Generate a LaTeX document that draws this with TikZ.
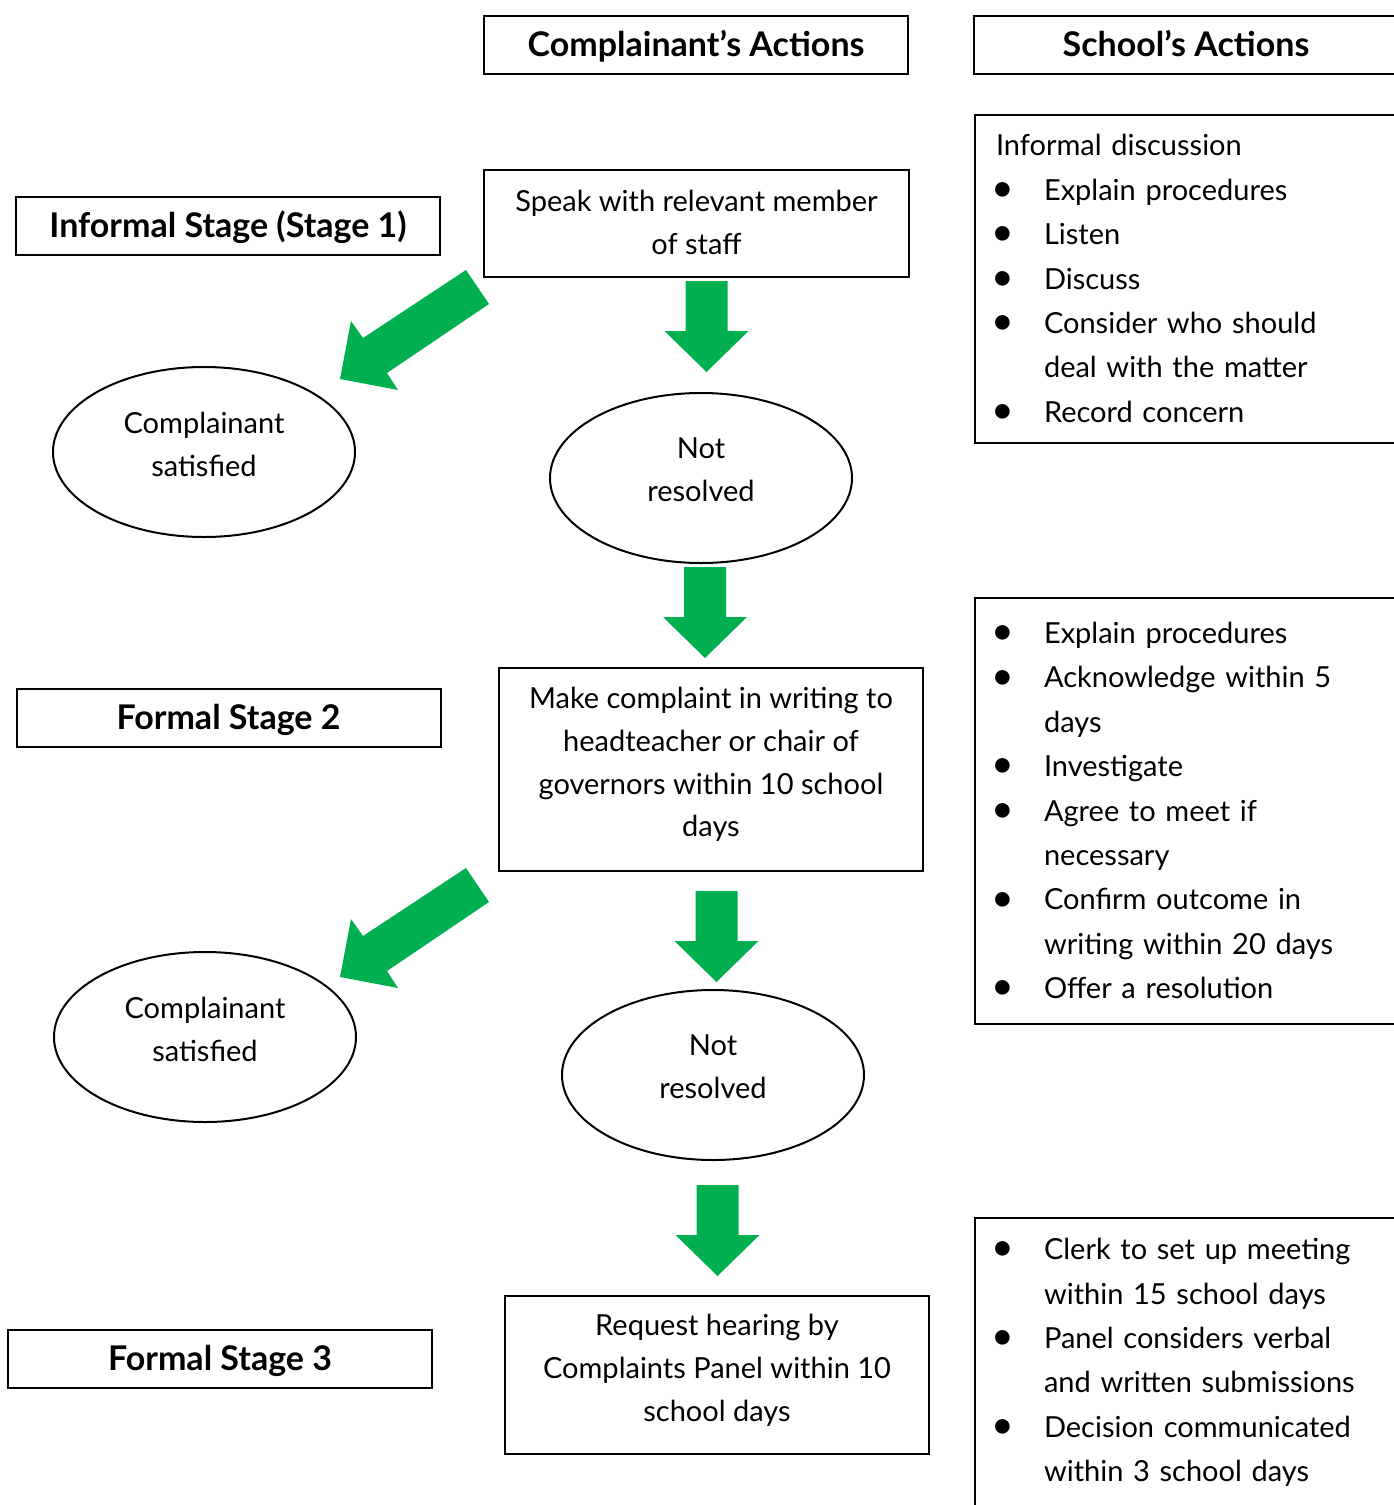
\documentclass[tikz,border=0pt]{standalone}
\usepackage{fontspec}
\setmainfont{Lato}
\usetikzlibrary{shapes.geometric}

\definecolor{arrowgreen}{RGB}{0,176,80}
\newcommand{\bul}{\makebox[24pt][l]{\hspace{-2.5pt}\raisebox{-0.6pt}{\scalebox{1.35}{\textbullet}}}}
\newcommand{\cont}{\hspace*{24pt}}
% block arrow pointing down, (#1,#2) = top centre of the shaft
\newcommand{\greendown}[2]{%
  \fill[arrowgreen] (#1,#2) ++(-21,0) -- ++(42,0) -- ++(0,50) -- ++(21,0)
    -- ++(-42,41) -- ++(-42,-41) -- ++(21,0) -- cycle;}

\tikzset{
  box/.style={draw, line width=1pt, minimum width=212pt, minimum height=29pt, inner sep=0pt},
  headbox/.style={box, text height=13.5pt, text depth=1.6pt,
    font=\bfseries\fontsize{17}{20}\selectfont},
  actbox/.style={draw, line width=1pt, minimum width=212pt},
  acttext/.style={align=center, font=\fontsize{14.5}{21.4}\selectfont},
  oval/.style={ellipse, draw, line width=1pt, minimum width=151pt, minimum height=85pt},
  ovaltext/.style={align=center, font=\fontsize{14.5}{21.5}\selectfont},
  listbox/.style={draw, line width=1pt, anchor=north west, minimum width=212pt,
    inner xsep=10.5pt, text width=191pt, align=left, font=\fontsize{14.5}{22.2}\selectfont}
}

\begin{document}
\begin{tikzpicture}[x=0.5pt, y=-0.5pt]
    \useasboundingbox (0,0) rectangle (1393,1505);

    % column headings
    \node[headbox] (cact) at (696,44.5) {Complainant’s Actions};
    \node[headbox] (sact) at (1186,45) {School’s Actions};

    % stage labels
    \node[headbox] (stage1) at (228,226) {Informal Stage (Stage 1)};
    \node[headbox] (stage2) at (228.5,718) {Formal Stage 2};
    \node[headbox] (stage3) at (220,1359) {Formal Stage 3};

    % complainant's actions
    \node[actbox, minimum height=53.5pt, minimum width=212.5pt] (speak) at (696.5,223.5) {};
    \node[acttext] (speakt) at ([yshift=0.5pt]speak.center) {Speak with relevant member\\of staff};
    \node[actbox, minimum height=101.5pt] (write) at (711,769.5) {};
    \node[acttext] (writet) at ([yshift=2.5pt]write.center)
        {Make complaint in writing to\\headteacher or chair of\\governors within 10 school\\days};
    \node[actbox, minimum height=79pt] (hearing) at (717,1375) {};
    \node[acttext] (hearingt) at ([yshift=2.5pt]hearing.center)
        {Request hearing by\\Complaints Panel within 10\\school days};

    % outcomes
    \node[oval] (sat1) at (204,452) {};
    \node[ovaltext] (sat1t) at ([yshift=4pt]sat1.center) {Complainant\\satisfied};
    \node[oval] (nr1) at (701,478) {};
    \node[ovaltext] (nr1t) at ([yshift=4pt]nr1.center) {Not\\resolved};
    \node[oval] (sat2) at (205,1037) {};
    \node[ovaltext] (sat2t) at ([yshift=4pt]sat2.center) {Complainant\\satisfied};
    \node[oval] (nr2) at (713,1075) {};
    \node[ovaltext] (nr2t) at ([yshift=4pt]nr2.center) {Not\\resolved};

    % green block arrows
    \foreach \cx/\ya in {706.5/281, 705/567, 716.5/891, 717.5/1185} {
        \greendown{\cx}{\ya}
    }
    \foreach \dy in {0, 598} {
        \fill[arrowgreen, shift={(-1,\dy)}] (467,270) -- (490,304) -- (388,373)
            -- (399,390) -- (341,379) -- (352,321) -- (364,338) -- cycle;
    }

    % school's actions
    \node[listbox, minimum height=164pt] (inf) at (974,114)
        {Informal discussion\\
         \bul Explain procedures\\
         \bul Listen\\
         \bul Discuss\\
         \bul Consider who should\\
         \cont deal with the matter\\
         \bul Record concern};
    \node[listbox, minimum height=213pt] (form) at (974,597)
        {\bul Explain procedures\\
         \bul Acknowledge within 5\\
         \cont days\\
         \bul Investigate\\
         \bul Agree to meet if\\
         \cont necessary\\
         \bul Confirm outcome in\\
         \cont writing within 20 days\\
         \bul Offer a resolution};
    \node[listbox, minimum height=144.5pt] (panel) at (974,1217)
        {\bul Clerk to set up meeting\\
         \cont within 15 school days\\
         \bul Panel considers verbal\\
         \cont and written submissions\\
         \bul Decision communicated\\
         \cont within 3 school days};
\end{tikzpicture}
\end{document}
